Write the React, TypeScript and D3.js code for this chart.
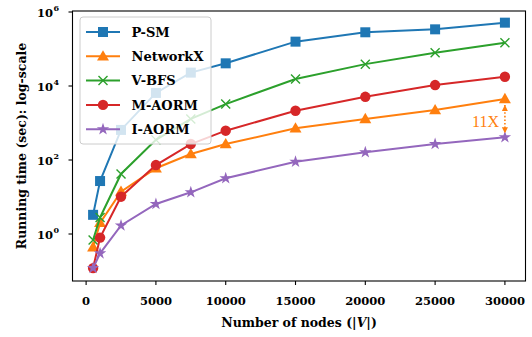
import React from "react";
import * as d3 from "d3";

const nodes = [500, 1000, 2500, 5000, 7500, 10000, 15000, 20000, 25000, 30000];
const pSM = [3.3, 27, 650, 6500, 23000, 41000, 158000, 283000, 340000, 515000];
const networkX = [0.44, 2.0, 14, 60, 145, 270, 720, 1290, 2240, 4460];
const vBFS = [0.69, 2.8, 42, 350, 1290, 3250, 15500, 39000, 79000, 148000];
const mAORM = [0.12, 0.8, 10.2, 73, 270, 620, 2150, 5100, 10600, 17800];
const iAORM = [0.12, 0.3, 1.7, 6.5, 13.4, 32, 90, 162, 270, 410];
const xTicks = [0, 5000, 10000, 15000, 20000, 25000, 30000];
const yTickExps = [0, 2, 4, 6];

type Marker = "square" | "triangle" | "x" | "circle" | "star";
const series: { name: string; values: number[]; color: string; marker: Marker }[] = [
  { name: "P-SM", values: pSM, color: "#1f77b4", marker: "square" },
  { name: "NetworkX", values: networkX, color: "#ff7f0e", marker: "triangle" },
  { name: "V-BFS", values: vBFS, color: "#2ca02c", marker: "x" },
  { name: "M-AORM", values: mAORM, color: "#d62728", marker: "circle" },
  { name: "I-AORM", values: iAORM, color: "#9467bd", marker: "star" },
];

const W = 532;
const H = 337;
const L = 72.5, R = 525.5, T = 11, B = 281;
const FONT = "'DejaVu Serif', serif";

const x = d3.scaleLinear().domain([-975, 31475]).range([L, R]);
const y = d3.scaleLog().domain([Math.pow(10, -1.27), Math.pow(10, 6.027)]).range([B, T]);

function MarkerShape({ m, cx, cy, color }: { m: Marker; cx: number; cy: number; color: string }) {
  const sym = (type: d3.SymbolType, size: number) =>
    d3.symbol().type(type).size(size)() as string;
  switch (m) {
    case "square":
      return <rect x={cx - 5} y={cy - 5} width={10} height={10} fill={color} />;
    case "circle":
      return <circle cx={cx} cy={cy} r={5.2} fill={color} />;
    case "triangle":
      return <path d={sym(d3.symbolTriangle, 62)} transform={`translate(${cx},${cy + 0.8})`} fill={color} />;
    case "star":
      return <path d={sym(d3.symbolStar, 48)} transform={`translate(${cx},${cy})`} fill={color} />;
    case "x":
      return (
        <path
          d={`M${cx - 4.5},${cy - 4.5}L${cx + 4.5},${cy + 4.5}M${cx - 4.5},${cy + 4.5}L${cx + 4.5},${cy - 4.5}`}
          stroke={color}
          strokeWidth={1.4}
          fill="none"
        />
      );
  }
}

export default function App() {
  const line = d3
    .line<number>()
    .x((_, i) => x(nodes[i]))
    .y((v) => y(v));

  const legX = 80, legY = 17, legW = 131, legH = 127;
  const legRow = 24.3;
  const lastIdx = nodes.length - 1;
  const ax = x(nodes[lastIdx]);
  const aTop = y(networkX[lastIdx]) + 6;
  const aBot = y(iAORM[lastIdx]) - 4;

  return (
    <svg width={W} height={H} style={{ position: "absolute", left: 0, top: 0 }}>
      <defs>
        <clipPath id="plot">
          <rect x={L} y={T} width={R - L} height={B - T} />
        </clipPath>
        <marker id="ah" viewBox="0 0 10 10" refX="10" refY="5" markerWidth="6" markerHeight="6" orient="auto-start-reverse" markerUnits="userSpaceOnUse">
          <path d="M0,0L10,5L0,10Z" fill="#ff7f0e" />
        </marker>
      </defs>
      <rect x={0} y={0} width={W} height={H} fill="white" />
      <g clipPath="url(#plot)">
        {series.map((s) => (
          <g key={s.name}>
            <path d={line(s.values) as string} fill="none" stroke={s.color} strokeWidth={2} />
            {s.values.map((v, i) => (
              <MarkerShape key={i} m={s.marker} cx={x(nodes[i])} cy={y(v)} color={s.color} />
            ))}
          </g>
        ))}
      </g>
      {/* annotation */}
      <line x1={ax} y1={aTop} x2={ax} y2={aBot} stroke="#ff7f0e" strokeWidth={1.6} strokeDasharray="1.6,2" markerStart="url(#ah)" markerEnd="url(#ah)" />
      <text x={485.5} y={126.5} textAnchor="middle" fontFamily="'Liberation Serif', serif" fontSize={16} fill="#ff7f0e">11X</text>
      {/* frame */}
      <rect x={L} y={T} width={R - L} height={B - T} fill="none" stroke="black" strokeWidth={1.1} />
      {/* x ticks */}
      {xTicks.map((t) => (
        <g key={t}>
          <line x1={x(t)} x2={x(t)} y1={B} y2={B + 4} stroke="black" strokeWidth={1.1} />
          <text x={x(t)} y={305.3} textAnchor="middle" fontFamily={FONT} fontWeight="bold" fontSize={11.5}>{t}</text>
        </g>
      ))}
      {/* y ticks */}
      {yTickExps.map((e) => {
        const yy = y(Math.pow(10, e));
        return (
          <g key={e}>
            <line x1={L - 4} x2={L} y1={yy} y2={yy} stroke="black" strokeWidth={1.1} />
            <text x={53} y={yy + 5} textAnchor="end" fontFamily={FONT} fontWeight="bold" fontSize={11.5}>10</text>
            <text x={53.5} y={yy - 1} textAnchor="start" fontFamily={FONT} fontWeight="bold" fontSize={8}>{e}</text>
          </g>
        );
      })}
      {/* axis labels */}
      <text x={(L + R) / 2} y={327} textAnchor="middle" fontFamily={FONT} fontWeight="bold" fontSize={12.5}>
        Number of nodes (|<tspan fontStyle="italic">V</tspan>|)
      </text>
      <text transform={`translate(26,${(T + B) / 2}) rotate(-90)`} textAnchor="middle" fontFamily={FONT} fontWeight="bold" fontSize={12.5}>
        Running time (sec): log-scale
      </text>
      {/* legend */}
      <rect x={legX} y={legY} width={legW} height={legH} rx={3} fill="white" fillOpacity={0.8} stroke="#cccccc" strokeWidth={1} />
      {series.map((s, i) => {
        const ly = 32 + i * legRow;
        return (
          <g key={s.name}>
            <line x1={86} x2={120} y1={ly} y2={ly} stroke={s.color} strokeWidth={2} />
            <MarkerShape m={s.marker} cx={103} cy={ly} color={s.color} />
            <text x={131.5} y={ly + 4.8} fontFamily={FONT} fontWeight="bold" fontSize={13}>{s.name}</text>
          </g>
        );
      })}
    </svg>
  );
}
